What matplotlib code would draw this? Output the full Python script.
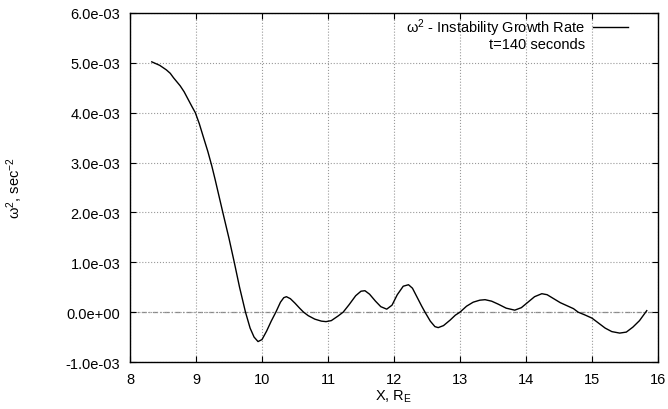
import matplotlib
matplotlib.use("Agg")
import matplotlib.pyplot as plt
from matplotlib.lines import Line2D
from matplotlib.ticker import FormatStrFormatter

plt.rcParams['font.family'] = ['Liberation Sans', 'DejaVu Sans']
plt.rcParams['mathtext.fontset'] = 'custom'
plt.rcParams['mathtext.rm'] = 'Liberation Sans'
plt.rcParams['mathtext.it'] = 'Liberation Sans'
plt.rcParams['mathtext.default'] = 'regular'

# X in Earth radii, growth rate in 1e-3 sec^-2
x_re = [8.33, 8.45, 8.55, 8.61, 8.66, 8.76, 8.82, 8.88, 8.94, 8.99, 9.05, 9.11,
        9.18, 9.24, 9.29, 9.35, 9.41, 9.50, 9.58, 9.66, 9.75, 9.82, 9.88, 9.94,
        10.00, 10.07, 10.14, 10.21, 10.28, 10.33, 10.37, 10.43, 10.50, 10.57, 10.63,
        10.70, 10.80, 10.90, 10.97, 11.05, 11.15, 11.23, 11.32, 11.42, 11.50, 11.56,
        11.63, 11.72, 11.80, 11.89, 11.97, 12.05, 12.14, 12.22, 12.28, 12.35, 12.42,
        12.47, 12.55, 12.62, 12.67, 12.75, 12.85, 12.93, 13.00, 13.10, 13.20, 13.30,
        13.38, 13.48, 13.58, 13.70, 13.83, 13.93, 14.03, 14.13, 14.24, 14.32, 14.42,
        14.52, 14.62, 14.72, 14.79, 14.90, 15.00, 15.10, 15.20, 15.30, 15.42, 15.52,
        15.62, 15.72, 15.83]
omega2 = [5.02, 4.95, 4.86, 4.79, 4.70, 4.54, 4.42, 4.27, 4.12, 4.00, 3.78, 3.52,
          3.22, 2.93, 2.66, 2.32, 1.98, 1.48, 1.00, 0.50, 0.00, -0.32, -0.50, -0.59,
          -0.55, -0.38, -0.18, 0.00, 0.20, 0.29, 0.31, 0.27, 0.18, 0.08, 0.00,
          -0.07, -0.14, -0.18, -0.19, -0.17, -0.08, 0.00, 0.15, 0.33, 0.42, 0.43,
          0.36, 0.22, 0.11, 0.06, 0.14, 0.35, 0.52, 0.55, 0.48, 0.30, 0.12,
          0.00, -0.18, -0.29, -0.31, -0.27, -0.16, -0.06, 0.00, 0.12, 0.20, 0.24,
          0.25, 0.22, 0.16, 0.08, 0.04, 0.09, 0.20, 0.31, 0.37, 0.35, 0.27,
          0.19, 0.13, 0.07, 0.00, -0.06, -0.12, -0.22, -0.32, -0.39, -0.42, -0.40,
          -0.30, -0.17, 0.03]
omega2 = [v * 1e-3 for v in omega2]

x_ticks = [8, 9, 10, 11, 12, 13, 14, 15, 16]
y_ticks = [-1e-3, 0, 1e-3, 2e-3, 3e-3, 4e-3, 5e-3, 6e-3]

fig = plt.figure(figsize=(6.68, 4.10), dpi=100)
ax = fig.add_axes([0.1946, 0.1146, 0.7904, 0.8513])

ax.axhline(0, color='#888888', lw=0.9, ls=(0, (4, 2, 1, 2)), zorder=1)
line, = ax.plot(x_re, omega2, color='black', lw=1.0, zorder=3)

ax.set_xlim(8, 16)
ax.set_ylim(-1e-3, 6e-3)
ax.set_xticks(x_ticks)
ax.set_yticks(y_ticks)
ax.yaxis.set_major_formatter(FormatStrFormatter('%.1e'))
ax.tick_params(direction='in', length=4, width=0.8, top=True, right=True,
               labelsize=10.5, pad=7)
ax.grid(True, color='#999999', ls=':', lw=0.8)
for s in ax.spines.values():
    s.set_linewidth(1.0)

ax.set_xlabel('X, R$_E$', fontsize=10.5)
ax.set_ylabel(r'$\omega^2$, sec$^{-2}$', fontsize=10.5)
ax.xaxis.set_label_coords(0.5, -0.072)
ax.yaxis.set_label_coords(-0.198, 0.5)

blank = Line2D([], [], color='none')
ax.legend([line, blank], [r'$\omega^2$ - Instability Growth Rate', 't=140 seconds'],
          loc='upper right', frameon=False, markerfirst=False, alignment='right',
          fontsize=10.5, handlelength=2.4, handletextpad=0.55, labelspacing=-0.1,
          borderpad=0, borderaxespad=0.0, bbox_to_anchor=(0.943, 0.99))

fig.savefig('out.png', dpi=100)
